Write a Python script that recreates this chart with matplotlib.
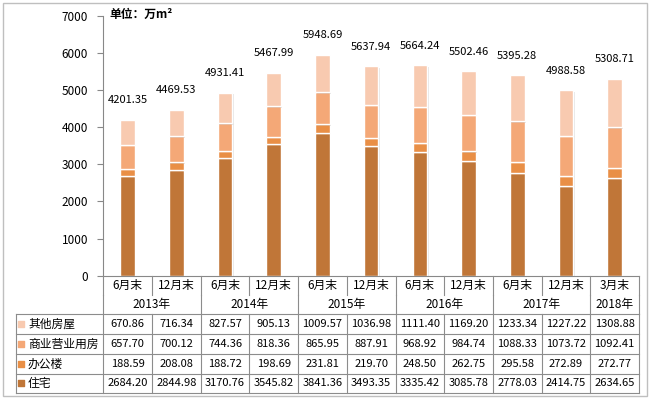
import numpy as np
import matplotlib.pyplot as plt
import matplotlib.patheffects as pe
from matplotlib.patches import Rectangle

plt.rcParams['font.family'] = ['Noto Sans CJK SC', 'DejaVu Sans']

# Data (万m²)
months = ['6月末', '12月末', '6月末', '12月末', '6月末', '12月末',
          '6月末', '12月末', '6月末', '12月末', '3月末']
years = ['2013年', '2014年', '2015年', '2016年', '2017年', '2018年']
year_span = [2, 2, 2, 2, 2, 1]

zhuzhai = [2684.20, 2844.98, 3170.76, 3545.82, 3841.36, 3493.35,
           3335.42, 3085.78, 2778.03, 2414.75, 2634.65]
bangong = [188.59, 208.08, 188.72, 198.69, 231.81, 219.70,
           248.50, 262.75, 295.58, 272.89, 272.77]
shangye = [657.70, 700.12, 744.36, 818.36, 865.95, 887.91,
           968.92, 984.74, 1088.33, 1073.72, 1092.41]
qita = [670.86, 716.34, 827.57, 905.13, 1009.57, 1036.98,
        1111.40, 1169.20, 1233.34, 1227.22, 1308.88]
totals = [4201.35, 4469.53, 4931.41, 5467.99, 5948.69, 5637.94,
          5664.24, 5502.46, 5395.28, 4988.58, 5308.71]

names = ['住宅', '办公楼', '商业营业用房', '其他房屋']
series = [zhuzhai, bangong, shangye, qita]
colors = ['#C07638', '#E98F46', '#F4A877', '#F8CAB0']

W, H = 651, 399
def fx(px):
    return px / W
def fy(py):
    return 1 - py / H

x_left, x_right = 103.3, 639.0
y_top, y_zero, y_bot = 15.7, 275.7, 393.3
col_w = (x_right - x_left) / len(months)

fig = plt.figure(figsize=(W / 100, H / 100), dpi=100)
fig.add_artist(Rectangle((fx(2.5), fy(396)), fx(647) - fx(2.5), fy(2.5) - fy(396),
                         transform=fig.transFigure, fill=False,
                         edgecolor='#BFBFBF', linewidth=1))

ax = fig.add_axes([fx(x_left), fy(y_zero), fx(x_right) - fx(x_left), fy(y_top) - fy(y_zero)])
x = np.arange(len(months))
bottom = np.zeros(len(months))
shadow = [pe.SimplePatchShadow(offset=(1, -1), shadow_rgbFace='#999999', alpha=0.25), pe.Normal()]
for vals, c, n in zip(series, colors, names):
    ax.bar(x, vals, 0.3, bottom=bottom, color=c, edgecolor='white', linewidth=1,
           label=n, path_effects=shadow)
    bottom += np.array(vals)

for i, t in enumerate(totals):
    ax.annotate(f'{t:.2f}', (i, t), xytext=(0, 14), textcoords='offset points',
                ha='center', va='center', fontsize=8)

ax.set_xlim(-0.5, 10.5)
ax.set_ylim(0, 7000)
ax.set_yticks(np.arange(0, 7001, 1000))
ax.set_xticks([])
ax.tick_params(axis='y', labelsize=8.5, length=4, color='#888888', pad=7)
for s in ['top', 'right']:
    ax.spines[s].set_visible(False)
ax.spines['left'].set_color('#888888')
ax.spines['bottom'].set_color('#888888')
ax.set_facecolor('none')

fig.text(fx(109), fy(14), '单位：万m²', fontsize=8.5, fontweight='bold', va='center')

# data table under the axis
tab = fig.add_axes([fx(x_left), fy(y_bot), fx(x_right) - fx(x_left), fy(y_zero) - fy(y_bot)])
tab.set_xlim(-0.5, 10.5)
tab.set_ylim(y_bot, y_zero)
tab.axis('off')

lc = '#8C8C8C'
lab_left = -0.5 - (x_left - 15.7) / col_w
row_edges = [314.3, 334.3, 354.0, 373.6, 393.3]
month_row_end = 295.0

for i in range(len(months) + 1):
    tab.plot([i - 0.5, i - 0.5], [y_zero, month_row_end], color=lc, lw=0.8, clip_on=False)
    tab.plot([i - 0.5, i - 0.5], [row_edges[0], y_bot], color=lc, lw=0.8, clip_on=False)
pos = 0
for span in year_span:
    tab.plot([pos - 0.5, pos - 0.5], [month_row_end, row_edges[0]], color=lc, lw=0.8, clip_on=False)
    pos += span
tab.plot([pos - 0.5, pos - 0.5], [month_row_end, row_edges[0]], color=lc, lw=0.8, clip_on=False)
tab.plot([lab_left, lab_left], [row_edges[0], y_bot], color=lc, lw=0.8, clip_on=False)
for ry in row_edges:
    tab.plot([lab_left, 10.5], [ry, ry], color=lc, lw=0.8, clip_on=False)

for i, m in enumerate(months):
    tab.text(i, (y_zero + month_row_end) / 2 + 0.5, m, ha='center', va='center', fontsize=8.5)
pos = 0
for yr, span in zip(years, year_span):
    tab.text(pos + (span - 1) / 2, (month_row_end + row_edges[0]) / 2, yr,
             ha='center', va='center', fontsize=8.5)
    pos += span

key_x = -0.5 - (x_left - 21) / col_w
txt_x = -0.5 - (x_left - 28) / col_w
rows_top_down = list(zip(names, series, colors))[::-1]
for r, (n, vals, c) in enumerate(rows_top_down):
    yc = (row_edges[r] + row_edges[r + 1]) / 2
    tab.scatter([key_x], [yc], marker='s', s=14, color=c, clip_on=False)
    tab.text(txt_x, yc, n, ha='left', va='center', fontsize=8.5, clip_on=False)
    for i, v in enumerate(vals):
        tab.text(i, yc, f'{v:.2f}', ha='center', va='center', fontsize=8)

plt.savefig('out.png', dpi=100)
